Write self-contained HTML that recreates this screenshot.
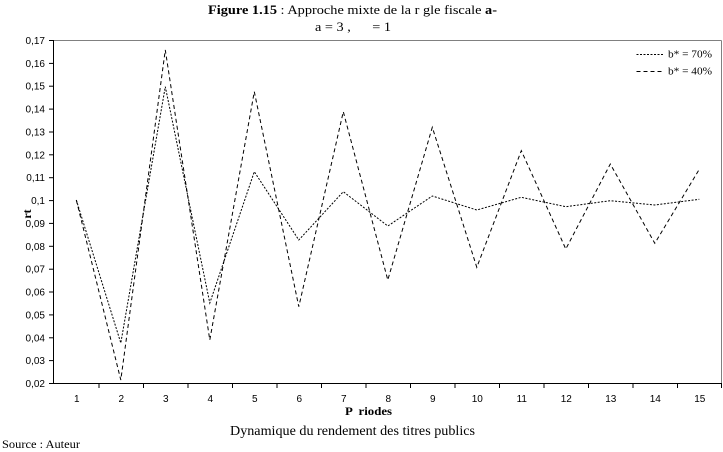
<!DOCTYPE html>
<html>
<head>
<meta charset="utf-8">
<style>
html,body{margin:0;padding:0;background:#fff;}
body{width:723px;height:452px;overflow:hidden;}
svg{display:block;}
.serif{font-family:"Liberation Serif","Times New Roman",serif;}
.sans{font-family:"Liberation Sans",Arial,sans-serif;}
</style>
</head>
<body>
<svg width="723" height="452" viewBox="0 0 723 452" xmlns="http://www.w3.org/2000/svg">
  <rect x="0" y="0" width="723" height="452" fill="#fff"/>
  <!-- Title -->
  <text class="serif" x="208" y="14" font-size="13" fill="#000" textLength="289" lengthAdjust="spacingAndGlyphs"><tspan font-weight="bold">Figure 1.15</tspan> : Approche mixte de la r  gle fiscale <tspan font-weight="bold">a-</tspan></text>
  <text class="serif" x="315" y="31" font-size="12.5" fill="#000" xml:space="preserve" textLength="76" lengthAdjust="spacingAndGlyphs">a = 3 ,      = 1</text>

  <!-- Plot frame -->
  <line x1="53.5" y1="40.5" x2="721.5" y2="40.5" stroke="#808080" stroke-width="1"/>
  <line x1="721.5" y1="40.5" x2="721.5" y2="383.5" stroke="#808080" stroke-width="1"/>
  <line x1="53.5" y1="40" x2="53.5" y2="384" stroke="#000" stroke-width="1"/>
  <line x1="53.5" y1="383.5" x2="722" y2="383.5" stroke="#000" stroke-width="1"/>

  <!-- Y ticks -->
  <g stroke="#000" stroke-width="1">
    <line x1="49" y1="40.5" x2="54" y2="40.5"/>
    <line x1="49" y1="63.4" x2="54" y2="63.4"/>
    <line x1="49" y1="86.2" x2="54" y2="86.2"/>
    <line x1="49" y1="109.1" x2="54" y2="109.1"/>
    <line x1="49" y1="132" x2="54" y2="132"/>
    <line x1="49" y1="154.8" x2="54" y2="154.8"/>
    <line x1="49" y1="177.7" x2="54" y2="177.7"/>
    <line x1="49" y1="200.6" x2="54" y2="200.6"/>
    <line x1="49" y1="223.4" x2="54" y2="223.4"/>
    <line x1="49" y1="246.3" x2="54" y2="246.3"/>
    <line x1="49" y1="269.2" x2="54" y2="269.2"/>
    <line x1="49" y1="292" x2="54" y2="292"/>
    <line x1="49" y1="314.9" x2="54" y2="314.9"/>
    <line x1="49" y1="337.8" x2="54" y2="337.8"/>
    <line x1="49" y1="360.6" x2="54" y2="360.6"/>
    <line x1="49" y1="383.5" x2="54" y2="383.5"/>
  </g>
  <g class="sans" font-size="10" fill="#000" text-anchor="end">
    <text x="45" y="44">0,17</text>
    <text x="45" y="66.9">0,16</text>
    <text x="45" y="89.7">0,15</text>
    <text x="45" y="112.6">0,14</text>
    <text x="45" y="135.5">0,13</text>
    <text x="45" y="158.3">0,12</text>
    <text x="45" y="181.2">0,11</text>
    <text x="45" y="204.1">0,1</text>
    <text x="45" y="226.9">0,09</text>
    <text x="45" y="249.8">0,08</text>
    <text x="45" y="272.7">0,07</text>
    <text x="45" y="295.5">0,06</text>
    <text x="45" y="318.4">0,05</text>
    <text x="45" y="341.3">0,04</text>
    <text x="45" y="364.1">0,03</text>
    <text x="45" y="387">0,02</text>
  </g>

  <!-- X ticks -->
  <g stroke="#000" stroke-width="1">
    <line x1="99" y1="383" x2="99" y2="388"/>
    <line x1="143.5" y1="383" x2="143.5" y2="388"/>
    <line x1="188" y1="383" x2="188" y2="388"/>
    <line x1="232.5" y1="383" x2="232.5" y2="388"/>
    <line x1="277" y1="383" x2="277" y2="388"/>
    <line x1="321.5" y1="383" x2="321.5" y2="388"/>
    <line x1="366" y1="383" x2="366" y2="388"/>
    <line x1="410.5" y1="383" x2="410.5" y2="388"/>
    <line x1="455" y1="383" x2="455" y2="388"/>
    <line x1="499.5" y1="383" x2="499.5" y2="388"/>
    <line x1="544" y1="383" x2="544" y2="388"/>
    <line x1="588.5" y1="383" x2="588.5" y2="388"/>
    <line x1="633" y1="383" x2="633" y2="388"/>
    <line x1="677.5" y1="383" x2="677.5" y2="388"/>
    <line x1="721.5" y1="383" x2="721.5" y2="388"/>
  </g>
  <g class="sans" font-size="10" fill="#000" text-anchor="middle">
    <text x="76.8" y="402">1</text>
    <text x="121.3" y="402">2</text>
    <text x="165.8" y="402">3</text>
    <text x="210.3" y="402">4</text>
    <text x="254.8" y="402">5</text>
    <text x="299.3" y="402">6</text>
    <text x="343.8" y="402">7</text>
    <text x="388.3" y="402">8</text>
    <text x="432.8" y="402">9</text>
    <text x="477.3" y="402">10</text>
    <text x="521.8" y="402">11</text>
    <text x="566.3" y="402">12</text>
    <text x="610.8" y="402">13</text>
    <text x="655.3" y="402">14</text>
    <text x="699.8" y="402">15</text>
  </g>

  <!-- Series: b* = 70% (dotted) -->
  <polyline fill="none" stroke="#000" stroke-width="1" stroke-dasharray="2,1.5"
    points="76.3,200 120.8,343 165.3,86.7 209.8,303 254.3,171.7 298.8,240 343.3,191.7 387.8,226 432.3,196 476.8,210 521.3,197.3 565.8,206.7 610.3,200.7 654.8,205 699.3,199.3"/>
  <!-- Series: b* = 40% (dashed) -->
  <polyline fill="none" stroke="#000" stroke-width="1" stroke-dasharray="4,3"
    points="76.3,200 120.8,380 165.3,50 209.8,340 254.3,91.7 298.8,306.7 343.3,111.7 387.8,280 432.3,127.3 476.8,267.3 521.3,150.7 565.8,249 610.3,164 654.8,243.3 699.3,169.3"/>

  <!-- Legend -->
  <line x1="636.5" y1="54.5" x2="663" y2="54.5" stroke="#000" stroke-width="1" stroke-dasharray="2,1.5"/>
  <text class="serif" x="668" y="57.5" font-size="10.5" fill="#000" textLength="44" lengthAdjust="spacingAndGlyphs">b* = 70%</text>
  <line x1="636.5" y1="71.5" x2="663" y2="71.5" stroke="#000" stroke-width="1" stroke-dasharray="4,3"/>
  <text class="serif" x="668" y="74.5" font-size="10.5" fill="#000" textLength="44" lengthAdjust="spacingAndGlyphs">b* = 40%</text>

  <!-- Axis titles -->
  <text class="serif" font-size="12" font-weight="bold" fill="#000" text-anchor="middle" transform="translate(31,214) rotate(-90)">rt</text>
  <text class="serif" x="345" y="415" font-size="12" font-weight="bold" fill="#000" xml:space="preserve" textLength="47" lengthAdjust="spacingAndGlyphs">P  riodes</text>

  <!-- Caption -->
  <text class="serif" x="230" y="435" font-size="14" fill="#000" textLength="245" lengthAdjust="spacingAndGlyphs">Dynamique du rendement des titres publics</text>
  <text class="serif" x="2" y="448" font-size="12" fill="#000" textLength="78" lengthAdjust="spacingAndGlyphs">Source : Auteur</text>
</svg>
</body>
</html>
